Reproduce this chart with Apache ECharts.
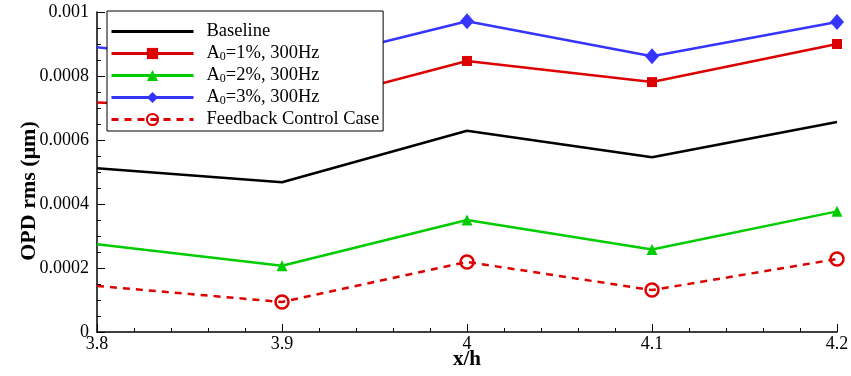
<!DOCTYPE html>
<html><head><meta charset="utf-8">
<script src="https://cdn.jsdelivr.net/npm/echarts@6/dist/echarts.min.js"></script>
<style>html,body{margin:0;padding:0;background:#fff}#c{width:851px;height:376px}</style>
</head><body><div id="c"></div>
<script>
const xh = [3.8, 3.9, 4.0, 4.1, 4.2];
const baseline = [0.000512, 0.000468, 0.000629, 0.000546, 0.000656];
const a1 = [0.000717, 0.000695, 0.000847, 0.000781, 0.000900];
const a2 = [0.000274, 0.000207, 0.000350, 0.000258, 0.000377];
const a3 = [0.000890, 0.000828, 0.000971, 0.000862, 0.000969];
const feedback = [0.000144, 0.0000938, 0.000219, 0.000131, 0.000228];
const names = ['Baseline', 'A0=1%, 300Hz', 'A0=2%, 300Hz', 'A0=3%, 300Hz', 'Feedback Control Case'];
const yTicks = [0, 0.0002, 0.0004, 0.0006, 0.0008, 0.001];

const FONT = 'Liberation Serif';
function pts(vals, hideFirst) {
  return xh.map((x, i) => (hideFirst && i === 0) ? {value: [x, vals[i]], symbol: 'none'} : [x, vals[i]]);
}
const RED = '#dd0000', GREEN = '#00cc00', BLUE = '#3535ff';
const chart = echarts.init(document.getElementById('c'));
chart.setOption({
  animation: false,
  grid: {left: 97, right: 14, top: 12, bottom: 44, containLabel: false, outerBoundsMode: 'none'},
  graphic: [{
    type: 'text', x: 29, y: 191, rotation: Math.PI / 2,
    style: {text: 'OPD rms (\u03bcm)', fontFamily: FONT, fontSize: 22, fontWeight: 'bold', fill: '#000',
      align: 'center', verticalAlign: 'middle'}
  }, {
    type: 'text', x: 467, y: 360,
    style: {text: 'x/h', fontFamily: FONT, fontSize: 21, fontWeight: 'bold', fill: '#000',
      align: 'center', verticalAlign: 'middle'}
  }],
  xAxis: {
    type: 'value', min: 3.8, max: 4.2, interval: 0.1,
    axisLine: {lineStyle: {color: '#000', width: 1.5}},
    axisTick: {inside: true, length: 8, lineStyle: {color: '#000'}},
    minorTick: {show: true, splitNumber: 5, length: 4, lineStyle: {color: '#000'}},
    axisLabel: {fontFamily: FONT, fontSize: 18, color: '#000', margin: 3,
      formatter: v => (Math.round(v * 10) / 10).toString()},
    splitLine: {show: false}
  },
  yAxis: {
    type: 'value', min: 0, max: 0.001, interval: 0.0002,
    axisLine: {show: true, lineStyle: {color: '#000', width: 1.5}},
    axisTick: {show: true, inside: true, length: 8, lineStyle: {color: '#000'}},
    minorTick: {show: true, splitNumber: 4, length: 4, lineStyle: {color: '#000'}},
    axisLabel: {fontFamily: FONT, fontSize: 18, color: '#000', margin: 8,
      formatter: v => { const t = yTicks.find(k => Math.abs(k - v) < 1e-9); return t === undefined ? '' : String(t); }},
    splitLine: {show: false}
  },
  legend: {
    orient: 'vertical', left: 107, top: 11,
    backgroundColor: '#fff', borderColor: '#000', borderWidth: 1,
    padding: [11, 4, 2, 3], itemGap: 3, itemWidth: 82, itemHeight: 14,
    data: [
      {name: names[0], itemStyle: {opacity: 0}, lineStyle: {width: 3}},
      {name: names[1], lineStyle: {width: 3}},
      {name: names[2], lineStyle: {width: 3}},
      {name: names[3], lineStyle: {width: 3}},
      {name: names[4], lineStyle: {width: 3}}
    ],
    formatter: n => n.replace('A0', 'A{sub|0}'),
    textStyle: {fontFamily: FONT, fontSize: 18.5, lineHeight: 19, color: '#000', padding: [0, 0, 0, 8],
      rich: {sub: {fontFamily: FONT, fontSize: 12, lineHeight: 19, verticalAlign: 'bottom', padding: [7, 0, 0, 0], color: '#000'}}}
  },
  series: [
    {name: names[0], type: 'line', data: pts(baseline), symbol: 'none', lineStyle: {color: '#000', width: 2.5}, itemStyle: {color: '#000'}},
    {name: names[1], type: 'line', data: pts(a1, true), symbol: 'rect', symbolSize: 10, lineStyle: {color: RED, width: 2.5}, itemStyle: {color: RED}},
    {name: names[2], type: 'line', data: pts(a2, true), symbol: 'triangle', symbolSize: 11, lineStyle: {color: GREEN, width: 2.5}, itemStyle: {color: GREEN}},
    {name: names[3], type: 'line', data: pts(a3, true), symbol: 'diamond', symbolSize: [14, 16], lineStyle: {color: BLUE, width: 2.5}, itemStyle: {color: BLUE}},
    {name: names[4], type: 'line', data: pts(feedback, true), symbol: 'circle', symbolSize: 13,
      lineStyle: {color: RED, width: 2.5, type: [7, 6]},
      itemStyle: {color: 'rgba(0,0,0,0)', borderColor: RED, borderWidth: 2.5}}
  ]
});
</script></body></html>
